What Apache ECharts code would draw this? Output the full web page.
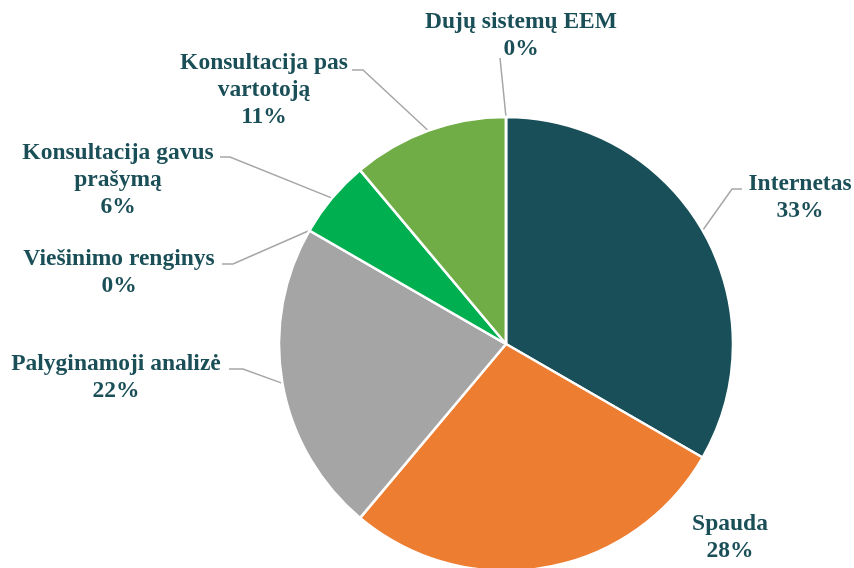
<!DOCTYPE html>
<html>
<head>
<meta charset="utf-8">
<script src="https://cdn.jsdelivr.net/npm/echarts@6/dist/echarts.min.js"></script>
<style>html,body{margin:0;padding:0;background:#fff}#c{width:854px;height:568px}</style>
</head>
<body>
<div id="c"></div>
<script>
// Data
var categories = ['Internetas', 'Spauda', 'Palyginamoji analizė', 'Viešinimo renginys', 'Konsultacija gavus\nprašymą', 'Konsultacija pas\nvartotoją', 'Dujų sistemų EEM'];
var values = [6, 5, 4, 0, 1, 2, 0];
var colors = ['#184f58', '#ed7d31', '#a5a5a5', '#a5a5a5', '#00b050', '#70ad47', '#70ad47'];

// Label layout (pixel positions of label centres and leader knees/ends)
var labelPos = [
  {x: 800, y: 197, knee: [732, 189], end: [742, 189]},
  {x: 730, y: 537, knee: null, end: null},
  {x: 116, y: 377, knee: [243, 369], end: [229, 369]},
  {x: 119, y: 272, knee: [233, 264], end: [222, 264]},
  {x: 118, y: 180, knee: [230, 157], end: [220, 157]},
  {x: 264, y: 90, knee: [363, 70], end: [352, 70]},
  {x: 521, y: 35, knee: [500, 58], end: [500, 58]}
];

var chart = echarts.init(document.getElementById('c'));
var data = categories.map(function (n, i) {
  return {
    name: n, value: values[i],
    itemStyle: {color: colors[i]},
    labelLine: {show: i !== 1}
  };
});
chart.setOption({
  animation: false,
  series: [{
    type: 'pie',
    center: [506, 344],
    radius: 227,
    startAngle: 90,
    clockwise: true,
    avoidLabelOverlap: false,
    data: data,
    itemStyle: {borderColor: '#fff', borderWidth: 2.5},
    label: {
      show: true,
      position: 'outside',
      formatter: function (p) { return p.name + '\n' + Math.round(p.percent) + '%'; },
      fontFamily: '"Liberation Serif", "DejaVu Serif", serif',
      fontWeight: 'bold',
      fontSize: 23.5,
      lineHeight: 27,
      color: '#1b4f58',
      align: 'center'
    },
    labelLine: {show: true, lineStyle: {color: '#a6a6a6', width: 1.5}},
    labelLayout: function (params) {
      var lp = labelPos[params.dataIndex];
      var res = {x: lp.x, y: lp.y, align: 'center', verticalAlign: 'middle'};
      if (lp.knee && params.labelLinePoints) {
        res.labelLinePoints = [params.labelLinePoints[0], lp.knee, lp.end];
      }
      return res;
    }
  }]
});
</script>
</body>
</html>
